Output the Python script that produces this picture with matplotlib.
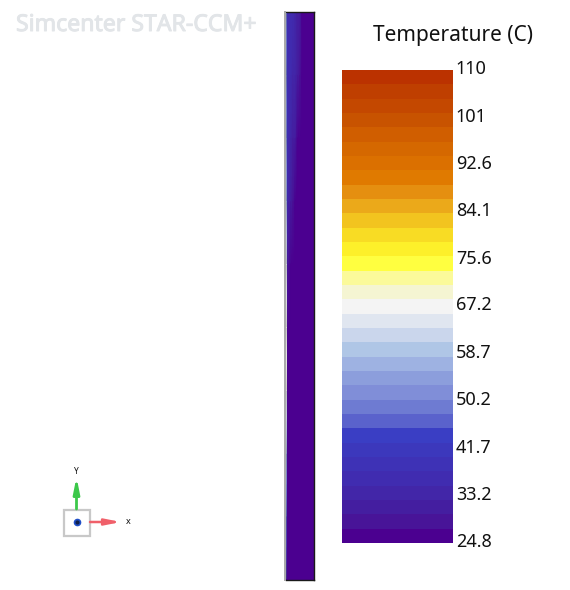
import matplotlib
matplotlib.use("Agg")
import matplotlib.pyplot as plt
import matplotlib.patheffects as pe
import numpy as np
from matplotlib.colors import ListedColormap
from matplotlib.transforms import ScaledTranslation

plt.rcParams["font.family"] = ["Noto Sans", "DejaVu Sans"]

W, H = 570, 590

# colour bar bands, top to bottom
band_colors = [
    "#BB3200", "#BF3F00", "#C44800", "#C85300", "#D05E00", "#D56800", "#DB7000", "#E07A00",
    "#E58F10", "#EBA91A", "#F2C41F", "#F8DC24", "#FDF02A", "#FFFF40", "#FBFA9A", "#F5F5D2",
    "#F4F4F4", "#E0E6F0", "#CAD6EC", "#AFC6E6", "#9EB2E2", "#8C9EDC", "#808ED8", "#6E7BD2",
    "#5A62CC", "#3A3EC4", "#3C38BC", "#3E32B6", "#402CB0", "#4226A8", "#441EA0", "#481498",
    "#4B0090",
]
temp_ticks = [109.5, 101, 92.6, 84.1, 75.6, 67.2, 58.7, 50.2, 41.7, 33.2, 24.8]
tick_labels = ["110", "101", "92.6", "84.1", "75.6", "67.2", "58.7", "50.2", "41.7", "33.2", "24.8"]
t_min, t_max = 24.8, 109.5

# temperature on the plate, rows top to bottom, columns left to right
field = np.array([
    [37, 37, 37, 36, 35, 32, 30, 27, 26, 25, 25, 25, 25],
    [37, 37, 36, 35, 33, 31, 28, 26, 25, 25, 25, 25, 25],
    [37, 36, 35, 32, 30, 27, 26, 25, 25, 25, 25, 25, 25],
    [36, 34, 31, 28, 26, 25, 25, 25, 25, 25, 25, 25, 25],
    [32, 28, 26, 25, 25, 25, 25, 25, 25, 25, 25, 25, 25],
    [28, 26, 25, 25, 25, 25, 25, 25, 25, 25, 25, 25, 25],
    [26, 25, 25, 25, 25, 25, 25, 25, 25, 25, 25, 25, 25],
    [25, 25, 25, 25, 25, 25, 25, 25, 25, 25, 25, 25, 25],
    [25, 25, 25, 25, 25, 25, 25, 25, 25, 25, 25, 25, 25],
    [25, 25, 25, 25, 25, 25, 25, 25, 25, 25, 25, 25, 25],
])
# the hot strip down the left edge of the plate
edge_temps = [50, 50, 52, 56, 64, 68, 66, 56, 46, 30]


def px_axes(x0, y0, x1, y1):
    return fig.add_axes([x0 / W, 1 - y1 / H, (x1 - x0) / W, (y1 - y0) / H])


fig = plt.figure(figsize=(W / 100, H / 100), dpi=100)
cmap = ListedColormap(band_colors[::-1])

# plate
ax = px_axes(286, 12, 313.5, 580)
rows, cols = field.shape
ax.pcolormesh(np.arange(cols), np.arange(rows), field, cmap=cmap, vmin=t_min, vmax=t_max, shading="gouraud")
ax.invert_yaxis()
ax.set_xticks([])
ax.set_yticks([])
for side in ["top", "right", "bottom"]:
    ax.spines[side].set_color("#1a1a1a")
    ax.spines[side].set_linewidth(1.0)
ax.spines["left"].set_visible(False)

edge = px_axes(286, 13, 287.2, 579)
edge.set_facecolor("#303030")
edge_grid = np.array([edge_temps, edge_temps]).T
edge.pcolormesh([0, 1], np.arange(len(edge_temps)), edge_grid, cmap=cmap, vmin=t_min, vmax=t_max,
                shading="gouraud", alpha=0.6)
edge.invert_yaxis()
edge.set_xticks([])
edge.set_yticks([])
for s in edge.spines.values():
    s.set_visible(False)
fig.add_artist(plt.Line2D([285.3 / W, 285.3 / W], [1 - 12 / H, 1 - 580 / H], color="#a8a8a8", lw=1.4))

# colour bar
cax = px_axes(342, 70, 453, 543)
cax.imshow(np.arange(len(band_colors)).reshape(-1, 1), cmap=ListedColormap(band_colors),
           aspect="auto", extent=[0, 1, t_min, t_max], interpolation="nearest")
cax.set_xticks([])
cax.yaxis.tick_right()
cax.set_yticks(temp_ticks)
cax.set_yticklabels(tick_labels, fontsize=13, color="#111111")
cax.tick_params(axis="y", length=0, pad=2)
shift = ScaledTranslation(0, 2 / 72, fig.dpi_scale_trans)
for lab in cax.get_yticklabels():
    lab.set_transform(lab.get_transform() + shift)
for s in cax.spines.values():
    s.set_visible(False)

fig.text(453 / W, 1 - 36 / H, "Temperature (C)", fontsize=15, color="#111111", ha="center", va="center")
fig.text(16 / W, 1 - 25 / H, "Simcenter STAR-CCM+", fontsize=16.6, color="#e2e5e8", ha="left", va="center",
         path_effects=[pe.withStroke(linewidth=0.7, foreground="#e2e5e8")])

# axis triad
tri = fig.add_axes([0, 0, 1, 1], facecolor="none")
tri.set_xlim(0, W)
tri.set_ylim(H, 0)
tri.axis("off")
tri.add_patch(plt.Rectangle((63.5, 509.5), 26, 26, fc="white", ec="#c8c8c8", lw=1.6))
tri.plot([76.5], [522], "o", ms=5.5, color="#2050c8", mec="none")
tri.plot([76.5], [522], "o", ms=3, color="#10204a", mec="none")
tri.annotate("", xy=(76.5, 477), xytext=(76.5, 509),
             arrowprops=dict(arrowstyle="-|>,head_length=0.9,head_width=0.18", color="#3cc84a", lw=2.0,
                             shrinkA=0, shrinkB=0))
tri.annotate("", xy=(121, 522), xytext=(90, 522),
             arrowprops=dict(arrowstyle="-|>,head_length=0.9,head_width=0.18", color="#f0606a", lw=1.8,
                             shrinkA=0, shrinkB=0))
tri.text(76.5, 471, "Y", fontsize=6, ha="center", va="center", color="#111111", fontweight="bold")
tri.text(128, 522, "x", fontsize=6.5, ha="center", va="center", color="#111111", fontweight="bold")

fig.savefig("out.png", dpi=100)
